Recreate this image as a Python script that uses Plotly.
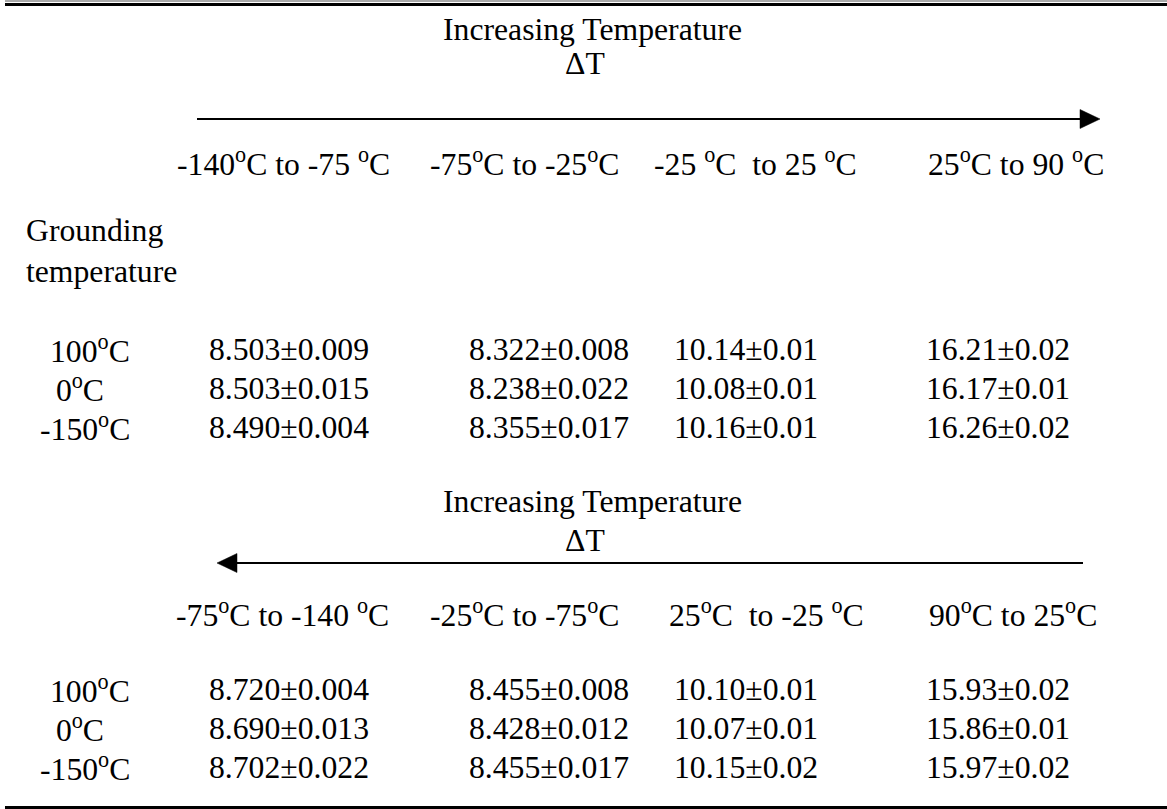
import plotly.graph_objects as go

# ---- data ----
title_text = "Increasing Temperature"
delta_text = "\u0394T"
heating_ranges = ["-140<sup>o</sup>C to -75 <sup>o</sup>C", "-75<sup>o</sup>C to -25<sup>o</sup>C",
                  "-25 <sup>o</sup>C\u00a0 to 25 <sup>o</sup>C", "25<sup>o</sup>C to 90 <sup>o</sup>C"]
cooling_ranges = ["-75<sup>o</sup>C to -140 <sup>o</sup>C", "-25<sup>o</sup>C to -75<sup>o</sup>C",
                  "25<sup>o</sup>C\u00a0 to -25 <sup>o</sup>C", "90<sup>o</sup>C to 25<sup>o</sup>C"]
grounding_label = "Grounding<br>temperature"
grounding_temps = ["100<sup>o</sup>C", "\u00a00<sup>o</sup>C", "-150<sup>o</sup>C"]
decimals = [3, 3, 2, 2]

heating_values = [[8.503, 8.322, 10.14, 16.21],
                  [8.503, 8.238, 10.08, 16.17],
                  [8.490, 8.355, 10.16, 16.26]]
heating_errors = [[0.009, 0.008, 0.01, 0.02],
                  [0.015, 0.022, 0.01, 0.01],
                  [0.004, 0.017, 0.01, 0.02]]
cooling_values = [[8.720, 8.455, 10.10, 15.93],
                  [8.690, 8.428, 10.07, 15.86],
                  [8.702, 8.455, 10.15, 15.97]]
cooling_errors = [[0.004, 0.008, 0.01, 0.02],
                  [0.013, 0.012, 0.01, 0.01],
                  [0.022, 0.017, 0.02, 0.02]]

# ---- layout constants (pixel coordinates) ----
W, H = 1167, 809
FONT = dict(family="Liberation Serif, Times New Roman, serif", size=31.7, color="black")
label_x = [48, 46, 38]
col_x = [207, 467, 672, 924]
head_x1 = [175, 428, 652, 926]
head_x2 = [174, 428, 667, 927]

fig = go.Figure()
ann = []


def txt(x, y, s, xanchor="left"):
    ann.append(dict(x=x, y=y, xref="x", yref="y", text=s, showarrow=False,
                    xanchor=xanchor, yanchor="middle", font=FONT, align="left"))


def fmt(v, e, d):
    return f"{v:.{d}f}\u00b1{e:.{d}f}"


def block(y_title, y_delta, heads, hx, y_head, values, errors, row_y):
    txt(592, y_title, title_text, "center")
    txt(585, y_delta, delta_text, "center")
    for s, x in zip(heads, hx):
        txt(x, y_head, s)
    for r, lab in enumerate(grounding_temps):
        txt(label_x[r], row_y[r], lab)
        for c in range(4):
            txt(col_x[c], row_y[r], fmt(values[r][c], errors[r][c], decimals[c]))


shapes = []
# top double rule
shapes.append(dict(type="line", xref="x", yref="y", x0=5, x1=W, y0=1, y1=1,
                   line=dict(color="#555555", width=1)))
shapes.append(dict(type="line", xref="x", yref="y", x0=5, x1=W, y0=4.5, y1=4.5,
                   line=dict(color="black", width=3)))
# bottom rule
shapes.append(dict(type="line", xref="x", yref="y", x0=5, x1=W, y0=807.5, y1=807.5,
                   line=dict(color="black", width=3)))

# block 1 (heating, arrow right)
block(29, 63, heating_ranges, head_x1, 162, heating_values, heating_errors, [349, 388, 427])
shapes.append(dict(type="line", xref="x", yref="y", x0=197, x1=1085, y0=119, y1=119,
                   line=dict(color="black", width=2)))
shapes.append(dict(type="path", xref="x", yref="y", path="M1080,109.5 L1100,119 L1080,128.5 Z",
                   fillcolor="black", line=dict(color="black", width=0.5)))
txt(24, 251, grounding_label)

# block 2 (cooling, arrow left)
block(501, 540, cooling_ranges, head_x2, 613, cooling_values, cooling_errors, [689, 728, 767])
shapes.append(dict(type="line", xref="x", yref="y", x0=230, x1=1083, y0=563, y1=563,
                   line=dict(color="black", width=2)))
shapes.append(dict(type="path", xref="x", yref="y", path="M237,553.5 L217,563 L237,572.5 Z",
                   fillcolor="black", line=dict(color="black", width=0.5)))

fig.update_layout(
    width=W, height=H, margin=dict(l=0, r=0, t=0, b=0),
    paper_bgcolor="white", plot_bgcolor="white",
    xaxis=dict(range=[0, W], visible=False, fixedrange=True),
    yaxis=dict(range=[H, 0], visible=False, fixedrange=True),
    annotations=ann, shapes=shapes, showlegend=False,
)
fig.write_html("out.html", config={"displayModeBar": False},
               post_script="document.body.style.margin='0';document.body.style.overflow='hidden';")
